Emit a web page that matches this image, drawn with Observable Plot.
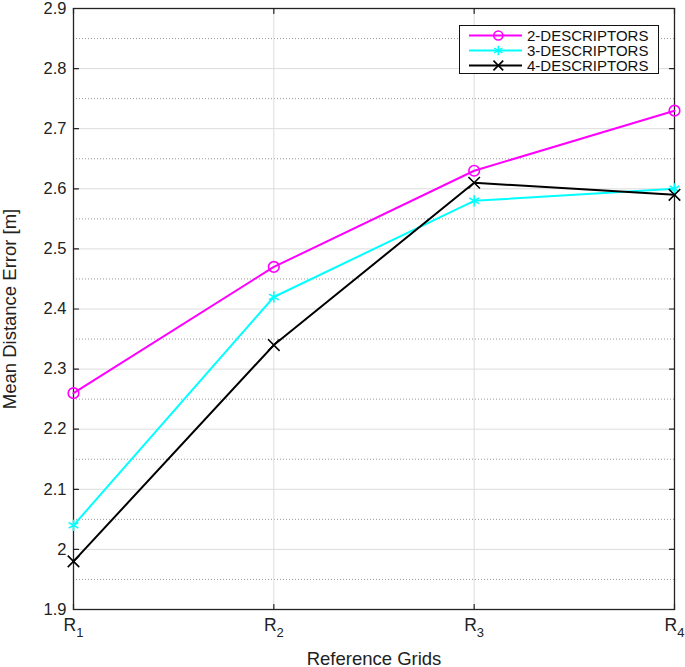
<!DOCTYPE html>
<html>
<head>
<meta charset="utf-8">
<script src="https://cdn.jsdelivr.net/npm/d3@7"></script>
<script src="https://cdn.jsdelivr.net/npm/@observablehq/plot@0.6"></script>
<style>
  html, body { margin: 0; padding: 0; background: #fff; }
  #wrap { position: relative; width: 685px; height: 667px; font-family: "Liberation Sans", Arial, Helvetica, sans-serif; }
  #legend { position: absolute; left: 459px; top: 25px; width: 198px; height: 47px; border: 1px solid #111; background: #fff; font-size: 15px; line-height: 15px; color: #111; }
  #legend .row { position: absolute; left: 0; height: 15px; display: flex; align-items: center; white-space: nowrap; }
  #legend svg { display: block; }
</style>
</head>
<body>
<div id="wrap"></div>
<script>
const grids = ["R1", "R2", "R3", "R4"];
const gridIndex = [1, 2, 3, 4];
const series = ["2-DESCRIPTORS", "3-DESCRIPTORS", "4-DESCRIPTORS"];
const colors = ["#ff00ff", "#00ffff", "#000000"];
const symbols = ["circle", "asterisk", "times"];
const values2 = [2.26, 2.47, 2.63, 2.73];
const values3 = [2.04, 2.42, 2.58, 2.60];
const values4 = [1.98, 2.34, 2.61, 2.59];
const yTicks = [1.9, 2.0, 2.1, 2.2, 2.3, 2.4, 2.5, 2.6, 2.7, 2.8, 2.9];
const yMinor = [1.95, 2.05, 2.15, 2.25, 2.35, 2.45, 2.55, 2.65, 2.75, 2.85];

const allValues = [values2, values3, values4];
const data = [];
series.forEach((s, si) => {
  allValues[si].forEach((v, i) => data.push({series: s, x: gridIndex[i], y: v}));
});

const tickShape = {draw(context, l) { context.moveTo(0, 0); context.lineTo(0, -l); }};
const tickStyle = {length: 5, anchor: "start", shape: tickShape, stroke: "#222", strokeWidth: 1.2};
const yMin = yTicks[0], yMax = yTicks[yTicks.length - 1];
const xMin = gridIndex[0], xMax = gridIndex[gridIndex.length - 1];

const chart = Plot.plot({
  width: 685,
  height: 667,
  marginLeft: 73,
  marginRight: 11,
  marginTop: 8,
  marginBottom: 58,
  style: {fontFamily: '"Liberation Sans", Arial, Helvetica, sans-serif', fontSize: "16.5px", color: "#222", background: "#fff"},
  x: {domain: [xMin, xMax]},
  y: {domain: [yMin, yMax]},
  color: {domain: series, range: colors},
  symbol: {domain: series, range: symbols},
  marks: [
    Plot.ruleY(yMinor, {stroke: "#9a9a9a", strokeDasharray: "1,2", strokeWidth: 1}),
    Plot.ruleY(yTicks, {stroke: "#dcdcdc", strokeWidth: 1}),
    Plot.ruleX(gridIndex, {stroke: "#dcdcdc", strokeWidth: 1}),
    Plot.frame({stroke: "#222", strokeWidth: 1.3}),
    Plot.vector(yTicks, {x: xMin, y: d => d, rotate: 90, ...tickStyle}),
    Plot.vector(yTicks, {x: xMax, y: d => d, rotate: -90, ...tickStyle}),
    Plot.vector(gridIndex, {x: d => d, y: yMin, rotate: 0, ...tickStyle}),
    Plot.vector(gridIndex, {x: d => d, y: yMax, rotate: 180, ...tickStyle}),
    Plot.axisY({anchor: "left", ticks: yTicks, tickSize: 0, tickPadding: 7, tickFormat: d => String(+d.toFixed(1)),
      label: "Mean Distance Error [m]", labelAnchor: "center", labelOffset: 71, labelArrow: "none"}),
    Plot.axisX({anchor: "bottom", ticks: gridIndex, tickSize: 0, tickPadding: 9, tickFormat: (d, i) => grids[i],
      label: "Reference Grids", labelAnchor: "center", labelOffset: 55, labelArrow: "none"}),
    Plot.line(data, {x: "x", y: "y", z: "series", stroke: "series", strokeWidth: 2}),
    Plot.dot(data, {x: "x", y: "y", stroke: "series", symbol: "series", r: 5.3, strokeWidth: 1.6, fill: "none"})
  ]
});

const sel = d3.select(chart);
sel.selectAll('g[aria-label="y-axis tick label"] text').style("font-size", "16.5px");
sel.selectAll('g[aria-label="y-axis label"] text').style("font-size", "18.5px");
sel.selectAll('g[aria-label="x-axis label"] text').style("font-size", "18.5px");
// subscript the R tick labels
sel.selectAll('g[aria-label="x-axis tick label"] text').each(function() {
  const t = d3.select(this);
  const s = t.text();
  t.style("font-size", "17.5px");
  t.text(null);
  t.append("tspan").text(s[0]);
  t.append("tspan").attr("dy", "0.45em").style("font-size", "13px").text(s.slice(1));
});

const wrap = document.getElementById("wrap");
wrap.appendChild(chart);

// legend
const legend = document.createElement("div");
legend.id = "legend";
const rowTops = [1.5, 16.5, 31.5];
series.forEach((s, i) => {
  const row = document.createElement("div");
  row.className = "row";
  row.style.top = rowTops[i] + "px";
  const sw = Plot.plot({
    width: 62, height: 14, margin: 0,
    x: {domain: [0, 1], axis: null}, y: {domain: [0, 1], axis: null},
    color: {domain: series, range: colors},
    symbol: {domain: series, range: symbols},
    marks: [
      Plot.ruleY([{series: s}], {y: 0.5, x1: 0.145, x2: 1, stroke: "series", strokeWidth: 2}),
      Plot.dot([{series: s}], {x: 0.61, y: 0.5, stroke: "series", symbol: "series", r: 4.5, strokeWidth: 1.6, fill: "none"})
    ]
  });
  row.appendChild(sw);
  const lab = document.createElement("span");
  lab.textContent = s;
  lab.style.marginLeft = "5px";
  row.appendChild(lab);
  legend.appendChild(row);
});
wrap.appendChild(legend);
</script>
</body>
</html>
